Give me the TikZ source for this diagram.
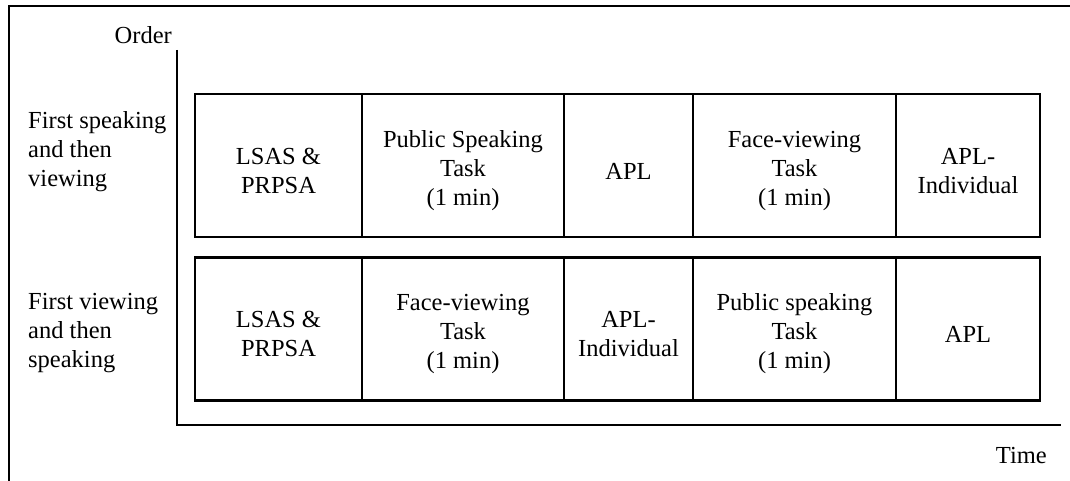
\documentclass[tikz,border=0pt]{standalone}
\usepackage{fontspec}
\setmainfont{Liberation Serif}
\newcommand{\topgap}{\rule{0pt}{27pt}}
\begin{document}
\begin{tikzpicture}[x=1pt,y=-1pt,
  every node/.style={font=\fontsize{24.5}{29}\selectfont, inner sep=0pt},
  cell/.style={draw, line width=2.6pt, align=center, minimum height=143pt},
  lbl/.style={align=left, anchor=north west},
  frame/.style={line width=2.8pt},
  axis/.style={line width=2.8pt}]
\useasboundingbox (0,0) rectangle (1070,481);
% partial frame (top and left)
\coordinate (ftl) at (9,6);
\coordinate (ftr) at (1070,6);
\coordinate (fbl) at (9,481);
\draw[frame] (ftr) -- (ftl) -- (fbl);
% axes
\coordinate (ytop) at (177,50);
\coordinate (orig) at (177,425);
\coordinate (xend) at (1061,425);
\draw[axis] (ytop) -- (orig) -- (xend);
\node[anchor=base east] (order) at (172,44) {Order};
\node[anchor=base east] (time) at (1047,463) {Time};
% row labels
\node[lbl] (r1) at (28,111) {First speaking\\and then\\viewing};
\node[lbl] (r2) at (28,293) {First viewing\\and then\\speaking};
% row 1 cells
\node[cell, minimum width=167pt] (a1) at (278.5,165.5) {\topgap LSAS \&\\PRPSA};
\node[cell, minimum width=202pt] (b1) at (463,165.5) {\topgap Public Speaking\\Task\\(1 min)};
\node[cell, minimum width=129pt] (c1) at (628.5,165.5) {\topgap APL};
\node[cell, minimum width=203pt] (d1) at (794.5,165.5) {\topgap Face-viewing\\Task\\(1 min)};
\node[cell, minimum width=144pt] (e1) at (968,165.5) {\topgap APL-\\Individual};
% row 2 cells
\node[cell, minimum width=167pt] (a2) at (278.5,329) {\topgap LSAS \&\\PRPSA};
\node[cell, minimum width=202pt] (b2) at (463,329) {\topgap Face-viewing\\Task\\(1 min)};
\node[cell, minimum width=129pt] (c2) at (628.5,329) {\topgap APL-\\Individual};
\node[cell, minimum width=203pt] (d2) at (794.5,329) {\topgap Public speaking\\Task\\(1 min)};
\node[cell, minimum width=144pt] (e2) at (968,329) {\topgap APL};
\end{tikzpicture}
\end{document}
